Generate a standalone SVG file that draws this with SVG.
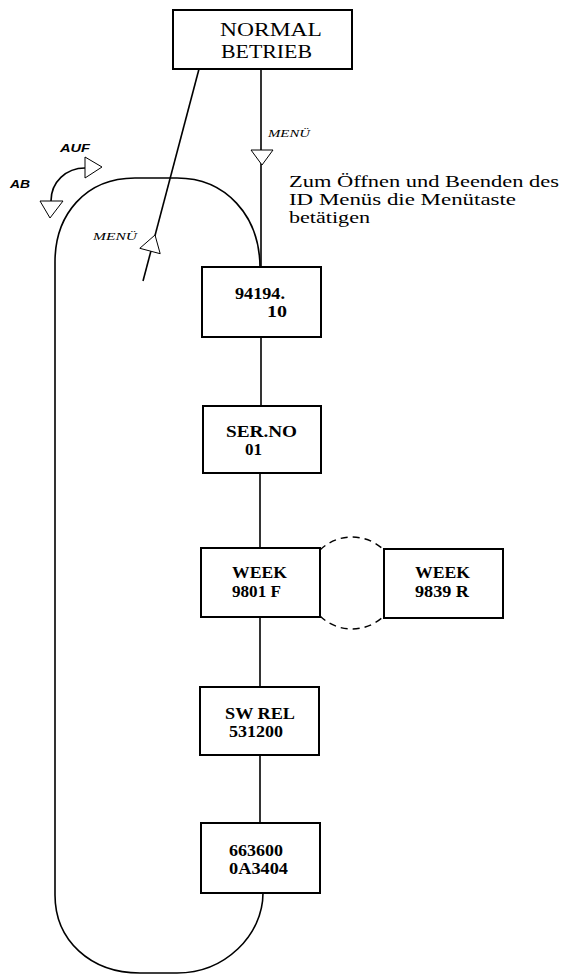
<svg xmlns="http://www.w3.org/2000/svg" width="561" height="976" viewBox="0 0 561 976">
<style>
.box{fill:#fff;stroke:#000;stroke-width:2}
.ln{fill:none;stroke:#000;stroke-width:1.6}
.dash{fill:none;stroke:#000;stroke-width:1.4;stroke-dasharray:7,5}
.tri{fill:#fff;stroke:#000;stroke-width:1}
.bt{font-family:'Liberation Serif','Times New Roman',serif;font-weight:bold;font-size:16px;fill:#000}
.nt{font-family:'Liberation Serif','Times New Roman',serif;font-size:19px;fill:#000}
.note{font-family:'Liberation Serif','Times New Roman',serif;font-size:16px;fill:#000}
.men{font-family:'Liberation Serif','Times New Roman',serif;font-style:italic;font-size:11px;fill:#000}
.key{font-family:'Liberation Sans',Arial,sans-serif;font-style:italic;font-weight:bold;font-size:11px;fill:#000}
</style>
<rect width="561" height="976" fill="#fff"/>
<g id="connectors">
  <path class="ln" d="M260,268 C260,215 225,178 177,178 L135,178 C85,178 55,215 55,262 L55,895 C55,940 90,973 140,973 L177,973 C225,973 263,935 263,893"/>
  <line class="ln" x1="261" y1="69" x2="261" y2="268" stroke-width="1.3"/>
  <polygon class="tri" points="251,150 273,150 262,165"/>
  <line class="ln" x1="199" y1="69" x2="143" y2="281" stroke-width="2"/>
  <polygon class="tri" points="155,235 139.8,248.3 160.2,253.7"/>
  <line class="ln" x1="261" y1="337" x2="261" y2="406"/>
  <line class="ln" x1="260" y1="473" x2="260" y2="548"/>
  <line class="ln" x1="260" y1="617" x2="260" y2="687"/>
  <line class="ln" x1="260" y1="755" x2="260" y2="823"/>
  <path class="dash" d="M320,550 A46,46 0 0 1 384,550"/>
  <path class="dash" d="M320,616 A46,46 0 0 0 384,616"/>
  <path class="ln" d="M51,201 C51,182 66,168 85,168"/>
  <polygon class="tri" points="85,157 102,167 85,178"/>
  <polygon class="tri" points="40,201 63,201 50,218"/>
  <text class="men" x="268" y="137" textLength="42" lengthAdjust="spacingAndGlyphs">MENÜ</text>
  <text class="men" x="93" y="240" textLength="44" lengthAdjust="spacingAndGlyphs">MENÜ</text>
  <text class="key" x="60" y="152" textLength="30" lengthAdjust="spacingAndGlyphs">AUF</text>
  <text class="key" x="10" y="188" textLength="20" lengthAdjust="spacingAndGlyphs">AB</text>
</g>
<g id="normal">
  <rect class="box" x="173" y="10" width="179" height="59"/>
  <text class="nt" x="220" y="36" textLength="102" lengthAdjust="spacingAndGlyphs">NORMAL</text>
  <text class="nt" x="221" y="58" textLength="91" lengthAdjust="spacingAndGlyphs">BETRIEB</text>
</g>
<g id="note">
  <text class="note" x="289" y="187" textLength="270" lengthAdjust="spacingAndGlyphs">Zum Öffnen und Beenden des</text>
  <text class="note" x="289" y="205" textLength="227" lengthAdjust="spacingAndGlyphs">ID Menüs die Menütaste</text>
  <text class="note" x="289" y="223" textLength="81" lengthAdjust="spacingAndGlyphs">betätigen</text>
</g>
<g id="n94194">
  <rect class="box" x="202" y="267" width="119" height="70"/>
  <text class="bt" x="235" y="299" textLength="50" lengthAdjust="spacingAndGlyphs">94194.</text>
  <text class="bt" x="267" y="317" textLength="20" lengthAdjust="spacingAndGlyphs">10</text>
</g>
<g id="serno">
  <rect class="box" x="203" y="406" width="118" height="67"/>
  <text class="bt" x="226" y="437" textLength="71" lengthAdjust="spacingAndGlyphs">SER.NO</text>
  <text class="bt" x="245" y="455" textLength="17" lengthAdjust="spacingAndGlyphs">01</text>
</g>
<g id="week1">
  <rect class="box" x="201" y="548" width="119" height="69"/>
  <text class="bt" x="232" y="578" textLength="55" lengthAdjust="spacingAndGlyphs">WEEK</text>
  <text class="bt" x="232" y="597" textLength="49" lengthAdjust="spacingAndGlyphs">9801 F</text>
</g>
<g id="week2">
  <rect class="box" x="384" y="549" width="119" height="69"/>
  <text class="bt" x="415" y="578" textLength="55" lengthAdjust="spacingAndGlyphs">WEEK</text>
  <text class="bt" x="415" y="597" textLength="54" lengthAdjust="spacingAndGlyphs">9839 R</text>
</g>
<g id="swrel">
  <rect class="box" x="200" y="687" width="119" height="68"/>
  <text class="bt" x="225" y="719" textLength="70" lengthAdjust="spacingAndGlyphs">SW REL</text>
  <text class="bt" x="229" y="737" textLength="54" lengthAdjust="spacingAndGlyphs">531200</text>
</g>
<g id="n663600">
  <rect class="box" x="201" y="823" width="119" height="70"/>
  <text class="bt" x="229" y="856" textLength="54" lengthAdjust="spacingAndGlyphs">663600</text>
  <text class="bt" x="229" y="874" textLength="59" lengthAdjust="spacingAndGlyphs">0A3404</text>
</g>
</svg>
